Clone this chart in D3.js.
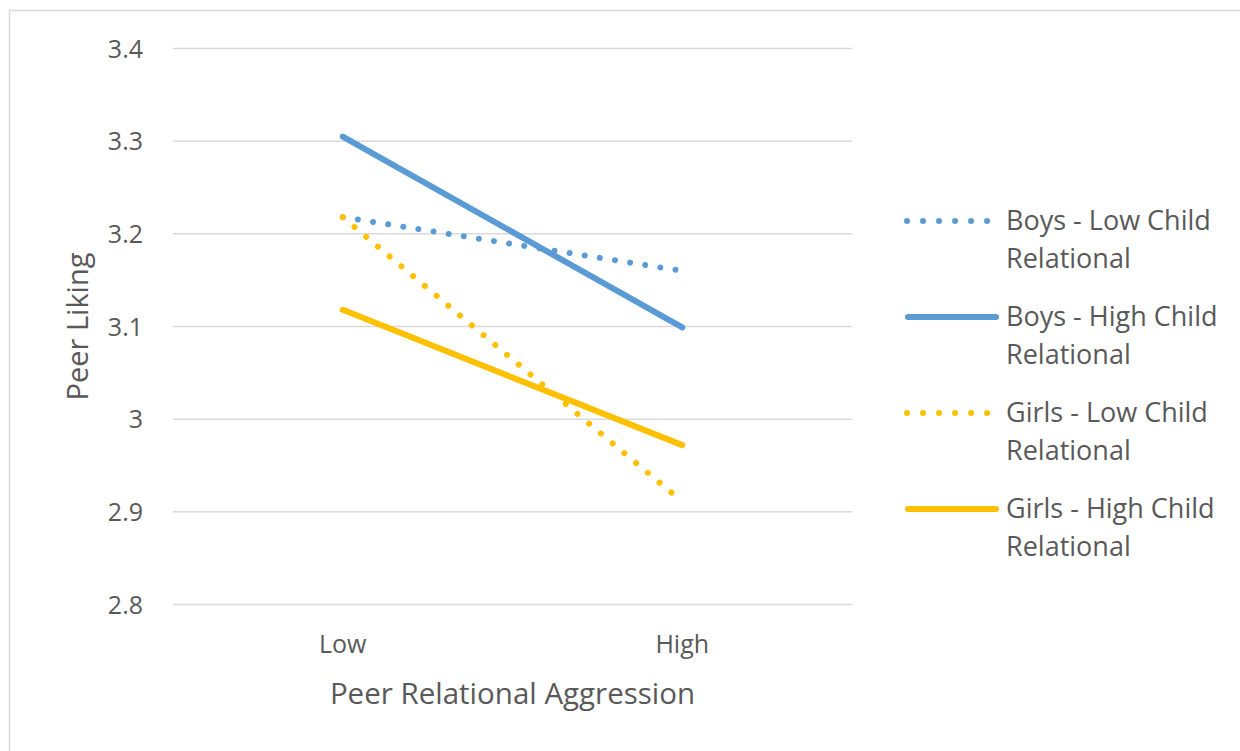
<!DOCTYPE html>
<html><head><meta charset="utf-8">
<script src="https://cdn.jsdelivr.net/npm/d3@7"></script>
<style>
html,body{margin:0;padding:0;background:#fff;}
svg text{font-family:"Open Sans","Noto Sans",sans-serif;fill:#595959;}
</style></head>
<body>
<svg id="chart" width="1240" height="751"></svg>
<script>
const categories = ["Low", "High"];
const seriesNames = ["Boys - Low Child Relational", "Boys - High Child Relational", "Girls - Low Child Relational", "Girls - High Child Relational"];
const legendLine1 = ["Boys - Low Child", "Boys - High Child", "Girls - Low Child", "Girls - High Child"];
const legendLine2 = ["Relational", "Relational", "Relational", "Relational"];
const boysLow = [3.218, 3.160];
const boysHigh = [3.305, 3.099];
const girlsLow = [3.218, 2.911];
const girlsHigh = [3.118, 2.972];
const yTicks = [2.8, 2.9, 3.0, 3.1, 3.2, 3.3, 3.4];
const yTickLabels = ["2.8", "2.9", "3", "3.1", "3.2", "3.3", "3.4"];
const seriesColors = ["#5B9BD5", "#5B9BD5", "#FFC000", "#FFC000"];
const seriesDotted = [true, false, true, false];

const seriesValues = [boysLow, boysHigh, girlsLow, girlsHigh];
const svg = d3.select("#chart");

// outer border
svg.append("path").attr("d", "M9.5,751 L9.5,10.5 L1240,10.5").attr("fill","none").attr("stroke","#d9d9d9").attr("stroke-width",1.5);

const pLeft = 173, pRight = 852, pTop = 48.5, pBottom = 604.5;
const x = d3.scaleBand().domain(categories).range([pLeft, pRight]);
const y = d3.scaleLinear().domain([2.8, 3.4]).range([pBottom, pTop]);

// gridlines
svg.append("g").selectAll("line").data(yTicks).join("line")
  .attr("x1", pLeft).attr("x2", pRight)
  .attr("y1", d => y(d)).attr("y2", d => y(d))
  .attr("stroke", "#d9d9d9").attr("stroke-width", 1.5);

// y axis labels
const yAxis = d3.axisLeft(y).tickValues(yTicks).tickFormat((d,i) => yTickLabels[i]).tickSize(0).tickPadding(0);
const gy = svg.append("g").attr("transform", `translate(${pLeft-30},0)`).call(yAxis);
gy.select(".domain").remove();
gy.attr("font-family", null).attr("font-size", null);
gy.selectAll("text").attr("font-size", 25).attr("fill", "#595959").attr("dy", "0.35em");

// x axis labels
const xAxis = d3.axisBottom(x).tickSize(0).tickPadding(0);
const gx = svg.append("g").attr("transform", `translate(0,${pBottom+30})`).call(xAxis);
gx.select(".domain").remove();
gx.attr("font-family", null).attr("font-size", null);
gx.selectAll("text").attr("font-size", 25).attr("fill", "#595959").attr("dy", "0.35em").attr("y", 10);

// axis titles
svg.append("text").attr("x", (pLeft+pRight)/2).attr("y", 694).attr("dy","0.35em").attr("text-anchor","middle").attr("font-size", 29.5).text("Peer Relational Aggression");
svg.append("text").attr("transform", `translate(78,${(pTop+pBottom)/2}) rotate(-90)`).attr("dy","0.35em").attr("text-anchor","middle").attr("font-size", 29).text("Peer Liking");

// lines
const line = d3.line().x((d,i) => x(categories[i]) + x.bandwidth()/2).y(d => y(d));
seriesValues.forEach((vals, s) => {
  const p = svg.append("path").datum(vals).attr("d", line)
    .attr("fill","none").attr("stroke", seriesColors[s]).attr("stroke-linecap","round");
  if (seriesDotted[s]) p.attr("stroke-width", 6).attr("stroke-dasharray", "0.01 15.3");
  else p.attr("stroke-width", 6);
});

// legend
const legendY = [221, 317, 413, 509];
const lg = svg.append("g");
seriesNames.forEach((name, s) => {
  const g = lg.append("g");
  const l = g.append("line").attr("y1", legendY[s]).attr("y2", legendY[s])
    .attr("stroke", seriesColors[s]).attr("stroke-linecap","round");
  if (seriesDotted[s]) l.attr("x1", 907).attr("x2", 988).attr("stroke-width", 6).attr("stroke-dasharray", "0.01 16");
  else l.attr("x1", 908).attr("x2", 996).attr("stroke-width", 6);
  g.append("text").attr("x", 1006).attr("y", legendY[s]).attr("dy","0.35em").attr("font-size", 27).text(legendLine1[s]);
  g.append("text").attr("x", 1006).attr("y", legendY[s]+38).attr("dy","0.35em").attr("font-size", 27).text(legendLine2[s]);
});
</script>
</body></html>
